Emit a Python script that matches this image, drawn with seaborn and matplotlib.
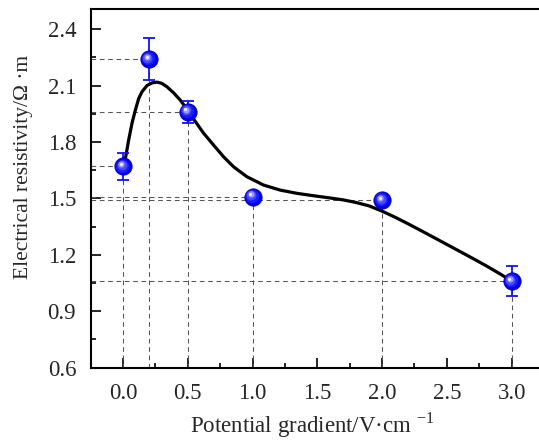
import matplotlib
matplotlib.use("Agg")
import matplotlib.pyplot as plt
import matplotlib.transforms as mtransforms
from matplotlib.ticker import MultipleLocator, FormatStrFormatter
import seaborn as sns
import pandas as pd

# Measured resistivity at each potential gradient
gradient = [0.0, 0.2, 0.5, 1.0, 2.0, 3.0]
resistivity = [1.67, 2.24, 1.96, 1.51, 1.49, 1.06]
resistivity_err = [0.07, 0.11, 0.06, 0.02, 0.02, 0.08]

# Smoothed trend curve
curve_x = [0.00, 0.02, 0.043, 0.069, 0.095, 0.12, 0.146, 0.185, 0.224, 0.262,
           0.30, 0.339, 0.39, 0.442, 0.50, 0.544, 0.621, 0.699, 0.776, 0.853,
           0.956, 1.084, 1.213, 1.341, 1.47, 1.60, 1.70, 1.80, 1.90, 2.00,
           2.10, 2.20, 2.30, 2.40, 2.50, 2.60, 2.70, 2.80, 2.90, 3.00]
curve_y = [1.68, 1.72, 1.81, 1.90, 1.97, 2.03, 2.067, 2.10, 2.114, 2.118,
           2.111, 2.093, 2.061, 2.022, 1.968, 1.922, 1.847, 1.783, 1.721, 1.668,
           1.615, 1.571, 1.544, 1.527, 1.514, 1.502, 1.492, 1.478, 1.460, 1.432,
           1.400, 1.365, 1.329, 1.292, 1.255, 1.218, 1.181, 1.143, 1.103, 1.061]

x_ticks = [0.0, 0.5, 1.0, 1.5, 2.0, 2.5, 3.0]
y_ticks = [0.6, 0.9, 1.2, 1.5, 1.8, 2.1, 2.4]
x_label = "Potential gradient/V·cm $^{\\mathregular{-1}}$"
y_label = "Electrical resistivity/Ω ·m"

points = pd.DataFrame({"gradient": gradient, "resistivity": resistivity})
curve = pd.DataFrame({"x": curve_x, "y": curve_y})

sns.set_theme(style="ticks")
plt.rcParams["font.family"] = ["Liberation Serif", "DejaVu Serif"]
plt.rcParams["mathtext.fontset"] = "custom"
plt.rcParams["mathtext.rm"] = "Liberation Serif"

fig = plt.figure(figsize=(5.39, 4.41), dpi=100)
ax = fig.add_axes([0.1683, 0.1662, 0.841, 0.8127])

x_min, x_max = -0.25, 3.25
y_min, y_max = 0.6, 2.505
ax.set_xlim(x_min, x_max)
ax.set_ylim(y_min, y_max)

# dashed guide lines from each point to both axes
guide = dict(color="#555555", lw=0.75, linestyle=(0, (4.5, 3.5)), zorder=1)
ax.hlines(resistivity, x_min, gradient, **guide)
ax.vlines(gradient, y_min, resistivity, **guide)

# trend curve
sns.lineplot(data=curve, x="x", y="y", color="black", lw=2.3, ax=ax,
             estimator=None, sort=False, zorder=3,
             solid_joinstyle="round", solid_capstyle="round")

# error bars
ax.errorbar(gradient, resistivity, yerr=resistivity_err, fmt="none",
            ecolor="#1010ff", elinewidth=1.3, capsize=4, capthick=1.3, zorder=4)

# spherical markers: base disc plus lighter layers toward the upper left
sns.scatterplot(data=points, x="gradient", y="resistivity", s=155,
                color="#0000e8", edgecolor="#0000b0", linewidth=0.6,
                ax=ax, zorder=5)
layers = [(95, "#1a1aff", -0.6, 0.6), (50, "#4a4aff", -1.1, 1.1),
          (20, "#9a9aff", -1.5, 1.5), (5, "#f0f0ff", -1.7, 1.7)]
for size, colour, dx, dy in layers:
    tr = mtransforms.offset_copy(ax.transData, fig=fig, x=dx, y=dy, units="points")
    ax.scatter(gradient, resistivity, s=size, color=colour, linewidths=0,
               transform=tr, zorder=6)

ax.set_xticks(x_ticks)
ax.set_yticks(y_ticks)
ax.xaxis.set_minor_locator(MultipleLocator(0.25))
ax.yaxis.set_minor_locator(MultipleLocator(0.15))
ax.xaxis.set_major_formatter(FormatStrFormatter("%.1f"))
ax.yaxis.set_major_formatter(FormatStrFormatter("%.1f"))
ax.tick_params(which="both", direction="in", width=1.2, color="black",
               top=False, right=False)
ax.tick_params(which="major", length=7, labelsize=16.5)
ax.tick_params(axis="x", which="major", pad=11)
ax.tick_params(axis="y", which="major", pad=10.5)
ax.tick_params(which="minor", length=3.5)
for sp in ax.spines.values():
    sp.set_linewidth(1.5)
    sp.set_color("black")

ax.set_xlabel(x_label, fontsize=16.5)
ax.set_ylabel(y_label, fontsize=15.5)
ax.xaxis.label.set_va("center")
ax.yaxis.label.set_va("center")
ax.xaxis.set_label_coords(0.488, -0.160)
ax.yaxis.set_label_coords(-0.149, 0.56)

fig.savefig("out.png", dpi=100)
